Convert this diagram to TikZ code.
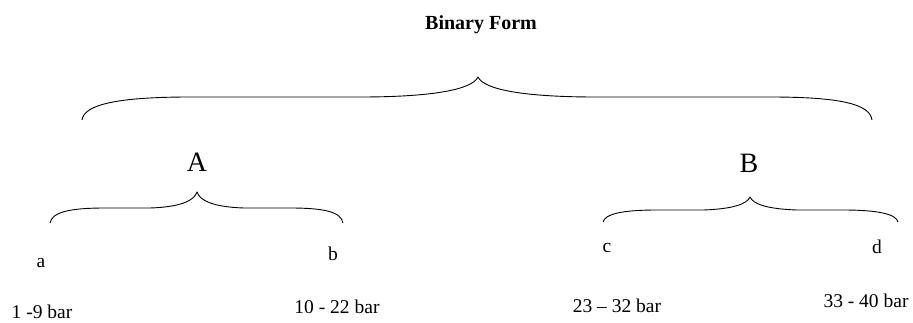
\documentclass[tikz,border=0pt]{standalone}
\usepackage{fontspec}
\setmainfont{Liberation Serif}
\begin{document}
\begin{tikzpicture}[x=1pt,y=-1pt,
  lbl/.style={inner sep=0pt,anchor=base,font=\fontsize{19.5}{23}\selectfont},
  big/.style={inner sep=0pt,anchor=base,font=\fontsize{28}{32}\selectfont},
  ttl/.style={inner sep=0pt,anchor=base,font=\fontsize{20}{24}\selectfont\bfseries},
  bracestyle/.style={line width=0.9pt,line join=round}]
\useasboundingbox (0,0) rectangle (913,322);
\node[ttl] (title) at (481,29) {Binary Form};
\node[big] (A) at (197,171) {A};
\node[big] (B) at (749,172) {B};
\node[lbl] (a) at (41,267) {a};
\node[lbl] (b) at (333,260) {b};
\node[lbl] (c) at (607,252) {c};
\node[lbl] (d) at (877,253) {d};
\node[lbl] (ra) at (42,318) {1 -9 bar};
\node[lbl] (rb) at (337,313) {10 - 22 bar};
\node[lbl] (rc) at (617,312) {23 – 32 bar};
\node[lbl] (rd) at (866,307) {33 - 40 bar};
% big brace
\draw[bracestyle] (82,120) .. controls (84,104) and (120,97) .. (190,97) -- (360,97)
  .. controls (430,97) and (472,90) .. (478,77)
  .. controls (484,90) and (526,97) .. (596,97) -- (770,97)
  .. controls (840,97) and (870,104) .. (872,120);
% brace A
\draw[bracestyle] (50,223) .. controls (52,212) and (70,208) .. (105,208) -- (150,208)
  .. controls (180,207) and (194,201) .. (197,192)
  .. controls (200,201) and (214,207) .. (244,208) -- (290,208)
  .. controls (325,208) and (341,212) .. (343,223);
% brace B
\draw[bracestyle] (603,222) .. controls (605,214) and (622,210) .. (657,210) -- (703,210)
  .. controls (733,209) and (747,204) .. (750,197)
  .. controls (753,204) and (767,209) .. (797,210) -- (843,210)
  .. controls (878,210) and (896,214) .. (898,222);
\end{tikzpicture}
\end{document}
